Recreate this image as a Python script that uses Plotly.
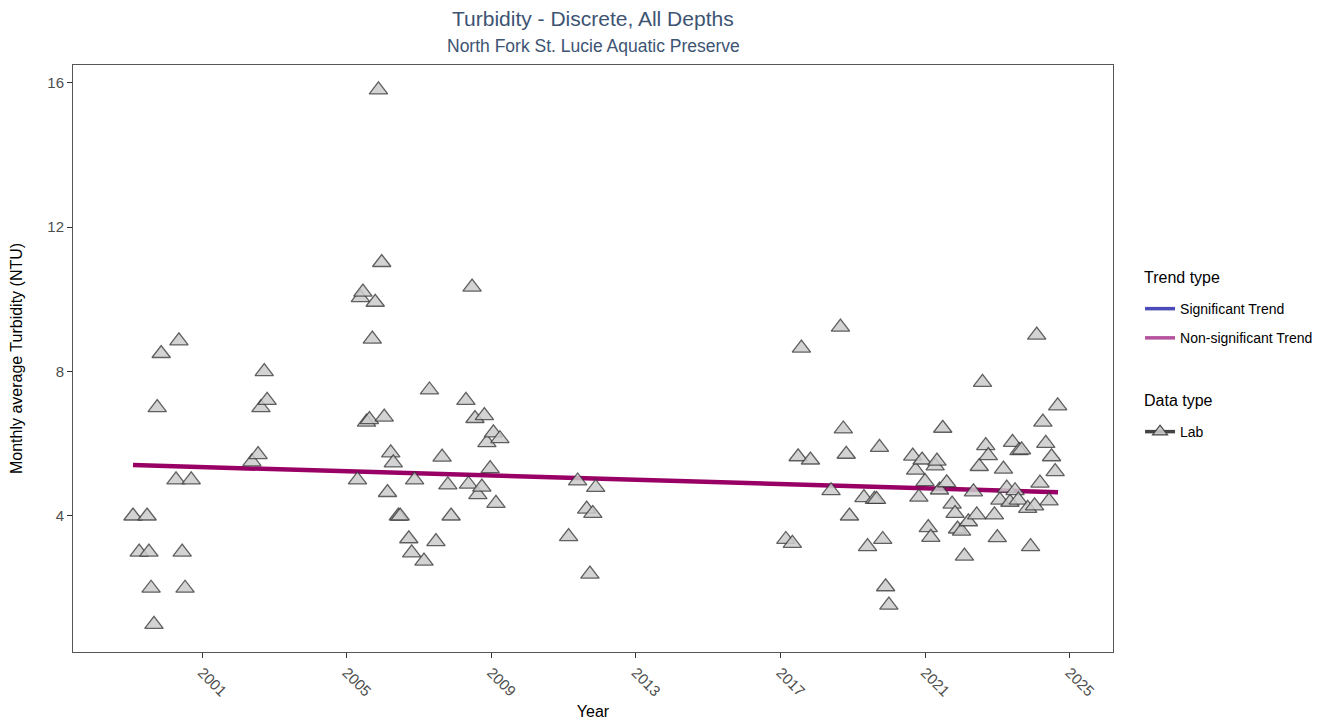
import plotly.graph_objects as go

# ---- data ----
years = [1999.09, 1999.26, 1999.48, 1999.53, 1999.59, 1999.67, 1999.76, 1999.87, 2000.28, 2000.36,
         2000.45, 2000.53, 2000.70,
         2002.38, 2002.55, 2002.63, 2002.72, 2002.80,
         2005.30, 2005.38, 2005.45, 2005.55, 2005.63, 2005.71, 2005.79, 2005.88, 2005.97, 2006.04,
         2006.13, 2006.22, 2006.29, 2006.43, 2006.48, 2006.72, 2006.80, 2006.88, 2007.14, 2007.29,
         2007.47, 2007.64, 2007.80, 2007.89, 2008.30, 2008.37, 2008.47, 2008.55, 2008.63, 2008.74,
         2008.81, 2008.88, 2008.97, 2009.06, 2009.13, 2009.24,
         2011.14, 2011.39, 2011.64, 2011.73, 2011.81, 2011.89,
         2017.15, 2017.33, 2017.49, 2017.58, 2017.83, 2018.40, 2018.66, 2018.74, 2018.82, 2018.91,
         2019.31, 2019.41, 2019.60, 2019.66, 2019.74, 2019.83, 2019.91, 2020.00, 2020.66, 2020.74,
         2020.83, 2020.92, 2021.00, 2021.09, 2021.16, 2021.28, 2021.33, 2021.40, 2021.49, 2021.60,
         2021.75, 2021.83, 2021.90, 2022.01, 2022.09, 2022.20, 2022.34, 2022.43, 2022.50, 2022.59,
         2022.68, 2022.75, 2022.92, 2023.00, 2023.07, 2023.17, 2023.26, 2023.35, 2023.42, 2023.49,
         2023.58, 2023.60, 2023.67, 2023.84, 2023.92, 2024.03, 2024.09, 2024.18, 2024.26, 2024.34,
         2024.43, 2024.50, 2024.60, 2024.67]
turbidity = [4.0, 3.0, 4.0, 3.0, 2.0, 1.0, 7.0, 8.5, 5.0, 8.85,
             3.0, 2.0, 5.0,
             5.5, 5.7, 7.0, 8.0, 7.2,
             5.0, 10.05, 10.2, 6.6, 6.67, 8.9, 9.92, 15.8, 11.02, 6.74,
             4.65, 5.75, 5.47, 4.0, 4.0, 3.37, 2.98, 5.0, 2.75, 7.49,
             3.29, 5.63, 4.86, 4.0, 7.2, 4.88, 10.34, 6.7, 4.59, 4.8,
             6.78, 6.03, 5.31, 6.3, 4.35, 6.14,
             3.43, 4.97, 4.19, 2.39, 4.07, 4.79,
             3.35, 3.24, 5.64, 8.65, 5.55, 4.7, 9.23, 6.41, 5.71, 4.0,
             4.51, 3.15, 4.46, 4.46, 5.9, 3.35, 2.04, 1.53, 5.66, 5.27,
             4.52, 5.55, 4.95, 3.68, 3.41, 5.39, 5.52, 4.72, 6.43, 4.92,
             4.33, 4.07, 3.64, 3.58, 2.89, 3.84, 4.67, 4.03, 5.37, 7.70,
             5.95, 5.67, 4.03, 3.40, 4.44, 5.30, 4.77, 4.38, 6.04, 4.70,
             4.44, 5.81, 5.83, 4.21, 3.15, 4.28, 9.01, 4.91, 6.60, 6.01,
             4.42, 5.64, 5.23, 7.05]

trend_years = [1999.09, 2024.68]
trend_values = [5.41, 4.66]

x_ticks = [2001, 2005, 2009, 2013, 2017, 2021, 2025]
y_ticks = [4, 8, 12, 16]

title_text = "Turbidity - Discrete, All Depths"
subtitle_text = "North Fork St. Lucie Aquatic Preserve"
legend1_title = "Trend type"
legend2_title = "Data type"

FONT = "Liberation Sans, Arial, sans-serif"
TITLE_COLOR = "#3d5473"

fig = go.Figure()

# trend line
fig.add_trace(go.Scatter(
    x=trend_years, y=trend_values, mode="lines",
    line=dict(color="#990066", width=4.5), showlegend=False, hoverinfo="skip"))

# data points
fig.add_trace(go.Scatter(
    x=years, y=turbidity, mode="markers",
    marker=dict(symbol="triangle-up", size=16, color="rgba(203,203,203,0.85)",
                line=dict(color="rgba(50,50,50,0.75)", width=1.3)),
    showlegend=False))

# legend entries
fig.add_trace(go.Scatter(x=[None], y=[None], mode="lines", name="Significant Trend",
                         line=dict(color="#4b4bb8", width=3.5), legend="legend", legendgroup="sig"))
fig.add_trace(go.Scatter(x=[None], y=[None], mode="lines", name="Non-significant Trend",
                         line=dict(color="#b5519d", width=3.5), legend="legend", legendgroup="nonsig"))
fig.add_trace(go.Scatter(x=[None], y=[None], mode="lines+markers", name="Lab",
                         line=dict(color="#444444", width=3.5),
                         marker=dict(symbol="triangle-up", size=13, color="rgba(200,200,200,0.9)",
                                     line=dict(color="#444444", width=1.2)),
                         legend="legend2"))

# title & subtitle
fig.add_annotation(text=title_text, x=0.5, xref="paper", y=1.0784, yref="paper",
                   xanchor="center", yanchor="middle", showarrow=False,
                   font=dict(family=FONT, size=21, color=TITLE_COLOR))
fig.add_annotation(text=subtitle_text, x=0.5, xref="paper", y=1.0324, yref="paper",
                   xanchor="center", yanchor="middle", showarrow=False,
                   font=dict(family=FONT, size=17.5, color=TITLE_COLOR))

# legend titles
fig.add_annotation(text=legend1_title, x=1.0275, xref="paper", y=0.6388, yref="paper",
                   xanchor="left", yanchor="middle", showarrow=False,
                   font=dict(family=FONT, size=16, color="#000000"))
fig.add_annotation(text=legend2_title, x=1.0275, xref="paper", y=0.4276, yref="paper",
                   xanchor="left", yanchor="middle", showarrow=False,
                   font=dict(family=FONT, size=16, color="#000000"))

fig.update_layout(
    width=1324, height=712,
    paper_bgcolor="white", plot_bgcolor="white",
    margin=dict(l=65, r=219, t=57, b=68),
    font=dict(family=FONT, size=14, color="#000000"),
    xaxis=dict(
        range=[1997.43, 2026.2], tickvals=x_ticks, ticktext=[str(t) for t in x_ticks],
        tickangle=45, ticks="outside", ticklen=5, tickcolor="#333333",
        tickfont=dict(family=FONT, size=15, color="#4d4d4d"),
        showgrid=False, zeroline=False, showline=True, linecolor="#555555", linewidth=1,
        mirror=True, automargin=False,
        title=dict(text="Year", font=dict(family=FONT, size=16, color="#000000"), standoff=11)),
    yaxis=dict(
        range=[0.233, 16.49], tickvals=y_ticks, ticks="outside", ticklen=5, tickcolor="#333333",
        tickfont=dict(family=FONT, size=15, color="#4d4d4d"),
        showgrid=False, zeroline=False, showline=True, linecolor="#555555", linewidth=1,
        mirror=True, automargin=False,
        title=dict(text="Monthly average Turbidity (NTU)", font=dict(family=FONT, size=16, color="#000000"),
                   standoff=20)),
    legend=dict(
        x=1.026, y=0.6115, xanchor="left", yanchor="top",
        font=dict(family=FONT, size=14), bgcolor="rgba(0,0,0,0)", tracegroupgap=8),
    legend2=dict(
        x=1.026, y=0.402, xanchor="left", yanchor="top",
        font=dict(family=FONT, size=14), bgcolor="rgba(0,0,0,0)"),
)

fig.write_html("out.html")
